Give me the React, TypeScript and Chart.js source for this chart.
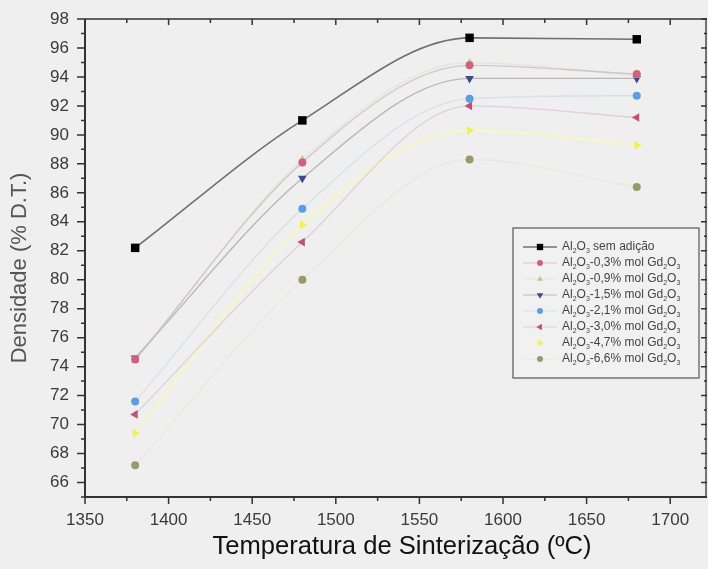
import React, { useEffect, useRef } from "react";
import { Chart, registerables } from "chart.js";
import { drawPoint } from "chart.js/helpers";

Chart.register(...registerables);

// Sintering temperatures (ºC)
const temperaturas = [1380, 1480, 1580, 1680];

// Relative density (% D.T.) for each composition
const semAdicao = [82.2, 91.0, 96.7, 96.6];
const gd03 = [74.5, 88.1, 94.8, 94.2];
const gd09 = [74.4, 88.3, 95.0, 94.1];
const gd15 = [74.6, 87.0, 93.9, 93.9];
const gd21 = [71.6, 84.9, 92.5, 92.7];
const gd30 = [70.7, 82.6, 92.0, 91.2];
const gd47 = [69.4, 83.8, 90.3, 89.3];
const gd66 = [67.2, 80.0, 88.3, 86.4];

// "_" marks the next character as a subscript
const seriesLabels = [
  "Al_2O_3 sem adição",
  "Al_2O_3-0,3% mol Gd_2O_3",
  "Al_2O_3-0,9% mol Gd_2O_3",
  "Al_2O_3-1,5% mol Gd_2O_3",
  "Al_2O_3-2,1% mol Gd_2O_3",
  "Al_2O_3-3,0% mol Gd_2O_3",
  "Al_2O_3-4,7% mol Gd_2O_3",
  "Al_2O_3-6,6% mol Gd_2O_3",
];

const seriesValues = [semAdicao, gd03, gd09, gd15, gd21, gd30, gd47, gd66];

const xTitle = "Temperatura de Sinterização (ºC)";
const yTitle = "Densidade (% D.T.)";

// Axis ranges
const xMin = 1350;
const xMax = 1722;
const xStep = 50;
const yMin = 65;
const yMax = 98;
const yStep = 2;

const markerColors = [
  "#000000",
  "#d0607e",
  "#b9c88e",
  "#3d4a8a",
  "#5c9fe0",
  "#c0507a",
  "#f0ef55",
  "#999a6a",
];
const lineColors = [
  "#707070",
  "rgba(205,172,184,0.65)",
  "rgba(215,225,205,0.5)",
  "#b8b8bc",
  "rgba(195,214,222,0.55)",
  "rgba(222,194,204,0.7)",
  "rgba(246,246,200,0.95)",
  "rgba(228,228,214,0.6)",
];
const markerStyles = ["rect", "circle", "triangle", "triangle", "circle", "triangle", "triangle", "circle"];
const markerRotations = [0, 0, 0, 180, 0, 270, 90, 0];
const markerRadii = [6, 4, 4.5, 5, 4, 5, 5, 4];

const FONT = "'Liberation Sans', Arial, Helvetica, sans-serif";

function drawRichText(ctx: CanvasRenderingContext2D, text: string, x: number, y: number, size: number) {
  let cx = x;
  for (let i = 0; i < text.length; i++) {
    const ch = text[i];
    if (ch === "_" && i + 1 < text.length) {
      const s = text[i + 1];
      ctx.font = `${Math.round(size * 0.62)}px ${FONT}`;
      ctx.fillText(s, cx, y + size * 0.32);
      cx += ctx.measureText(s).width;
      i++;
    } else {
      ctx.font = `${size}px ${FONT}`;
      ctx.fillText(ch, cx, y);
      cx += ctx.measureText(ch).width;
    }
  }
}

const backgroundPlugin = {
  id: "paperBackground",
  beforeDraw(chart: any) {
    const { ctx, width, height } = chart;
    ctx.save();
    ctx.fillStyle = "#efefef";
    ctx.fillRect(0, 0, width, height);
    ctx.restore();
  },
};

const framePlugin = {
  id: "frameTicks",
  afterDraw(chart: any) {
    const { ctx, chartArea } = chart;
    const xs = chart.scales.x;
    const ys = chart.scales.y;
    const { left, right, top, bottom } = chartArea;
    ctx.save();
    ctx.strokeStyle = "#333";
    ctx.lineCap = "butt";

    const xMajor: number[] = [];
    for (let v = xMin; v <= xMax; v += xStep) xMajor.push(v);
    const xMinor: number[] = [];
    for (let v = xMin + xStep / 2; v <= xMax; v += xStep) xMinor.push(v);
    const yMajor: number[] = [];
    for (let v = 66; v <= yMax; v += yStep) yMajor.push(v);
    const yMinor: number[] = [];
    for (let v = 65; v <= yMax; v += yStep) yMinor.push(v);

    ctx.lineWidth = 1.3;
    // top and right frame
    ctx.beginPath();
    ctx.moveTo(left, top);
    ctx.lineTo(right, top);
    ctx.moveTo(right - 1, top);
    ctx.lineTo(right - 1, bottom);
    ctx.stroke();

    ctx.lineWidth = 1.5;
    ctx.beginPath();
    for (const v of xMajor) {
      const p = xs.getPixelForValue(v);
      ctx.moveTo(p, bottom);
      ctx.lineTo(p, bottom + 7);
      ctx.moveTo(p, top);
      ctx.lineTo(p, top + 6);
    }
    for (const v of xMinor) {
      const p = xs.getPixelForValue(v);
      ctx.moveTo(p, bottom);
      ctx.lineTo(p, bottom + 4);
      ctx.moveTo(p, top);
      ctx.lineTo(p, top + 4);
    }
    for (const v of yMajor) {
      const p = ys.getPixelForValue(v);
      ctx.moveTo(left, p);
      ctx.lineTo(left - 8, p);
      ctx.moveTo(right, p);
      ctx.lineTo(right - 6, p);
    }
    for (const v of yMinor) {
      const p = ys.getPixelForValue(v);
      ctx.moveTo(left, p);
      ctx.lineTo(left - 4, p);
      ctx.moveTo(right, p);
      ctx.lineTo(right - 3, p);
    }
    ctx.stroke();

    // left and bottom axis lines
    ctx.lineWidth = 2;
    ctx.beginPath();
    ctx.moveTo(left, top);
    ctx.lineTo(left, bottom + 1);
    ctx.moveTo(left - 1, bottom);
    ctx.lineTo(right, bottom);
    ctx.stroke();

    // axis titles
    ctx.textAlign = "center";
    ctx.textBaseline = "middle";
    ctx.fillStyle = "#111";
    ctx.font = `25.6px ${FONT}`;
    ctx.fillText(xTitle, 402, 547);
    ctx.save();
    ctx.translate(20, 268);
    ctx.rotate(-Math.PI / 2);
    ctx.fillStyle = "#555";
    ctx.font = `22px ${FONT}`;
    ctx.fillText(yTitle, 0, 0);
    ctx.restore();
    ctx.restore();
  },
};

const legendPlugin = {
  id: "insetLegend",
  afterDatasetsDraw(chart: any) {
    const { ctx } = chart;
    const bx = 513;
    const by = 228;
    const bw = 186;
    const bh = 150;
    const rowH = 16;
    ctx.save();
    ctx.fillStyle = "#f1f1f1";
    ctx.fillRect(bx, by, bw, bh);
    ctx.strokeStyle = "#555";
    ctx.lineWidth = 1.2;
    ctx.strokeRect(bx, by, bw, bh);
    seriesLabels.forEach((label, i) => {
      const cy = by + 19 + i * rowH;
      ctx.strokeStyle = lineColors[i];
      ctx.lineWidth = i === 0 ? 1.3 : 1;
      ctx.beginPath();
      ctx.moveTo(bx + 10, cy);
      ctx.lineTo(bx + 44, cy);
      ctx.stroke();
      ctx.fillStyle = markerColors[i];
      ctx.strokeStyle = markerColors[i];
      drawPoint(
        ctx,
        {
          pointStyle: markerStyles[i],
          radius: markerRadii[i] * 0.75,
          rotation: markerRotations[i],
          borderWidth: 0,
        } as any,
        bx + 27,
        cy
      );
      ctx.fillStyle = "#444";
      ctx.textBaseline = "middle";
      ctx.textAlign = "left";
      drawRichText(ctx, label, bx + 49, cy, 12);
    });
    ctx.restore();
  },
};

export default function App() {
  const canvasRef = useRef<HTMLCanvasElement | null>(null);

  useEffect(() => {
    if (!canvasRef.current) return;
    const datasets = seriesValues.map((vals, i) => ({
      label: seriesLabels[i].replace(/_/g, ""),
      data: temperaturas.map((t, k) => ({ x: t, y: vals[k] })),
      showLine: true,
      cubicInterpolationMode: "monotone" as const,
      borderColor: lineColors[i],
      borderWidth: i === 0 ? 1.6 : i === 6 ? 2.5 : 1.4,
      pointStyle: markerStyles[i] as any,
      rotation: markerRotations[i],
      pointRadius: markerRadii[i],
      pointBackgroundColor: markerColors[i],
      pointBorderColor: markerColors[i],
      pointBorderWidth: 0,
      clip: false as any,
    }));

    const chart = new Chart(canvasRef.current, {
      type: "scatter",
      data: { datasets },
      options: {
        responsive: false,
        animation: false,
        layout: { autoPadding: false, padding: { top: 19, right: 1, left: 0, bottom: 0 } },
        plugins: {
          legend: { display: false },
          tooltip: { enabled: false },
        },
        scales: {
          x: {
            type: "linear",
            min: xMin,
            max: xMax,
            grid: { display: false, drawTicks: false },
            border: { display: false },
            ticks: {
              stepSize: xStep,
              includeBounds: false,
              padding: 13,
              color: "#3a3a3a",
              font: { family: FONT, size: 17 },
              callback: (v: any) => (Number(v) % xStep === 0 && Number(v) >= xMin ? String(v) : ""),
              maxRotation: 0,
              autoSkip: false,
            },
            afterFit: (scale: any) => {
              scale.height = 72;
              scale.paddingLeft = 0;
              scale.paddingRight = 0;
            },
          },
          y: {
            type: "linear",
            min: yMin,
            max: yMax,
            grid: { display: false, drawTicks: false },
            border: { display: false },
            ticks: {
              stepSize: yStep,
              includeBounds: false,
              padding: 16,
              color: "#3a3a3a",
              font: { family: FONT, size: 17 },
              callback: (v: any) => (Number(v) % yStep === 0 && Number(v) >= 66 ? String(v) : ""),
              autoSkip: false,
            },
            afterFit: (scale: any) => {
              scale.width = 85;
              scale.paddingTop = 0;
              scale.paddingBottom = 0;
            },
          },
        },
      },
      plugins: [backgroundPlugin, legendPlugin, framePlugin],
    });
    return () => chart.destroy();
  }, []);

  return (
    <div style={{ position: "absolute", left: 0, top: 0, width: 708, height: 569 }}>
      <canvas ref={canvasRef} width={708} height={569} style={{ display: "block" }} />
    </div>
  );
}
